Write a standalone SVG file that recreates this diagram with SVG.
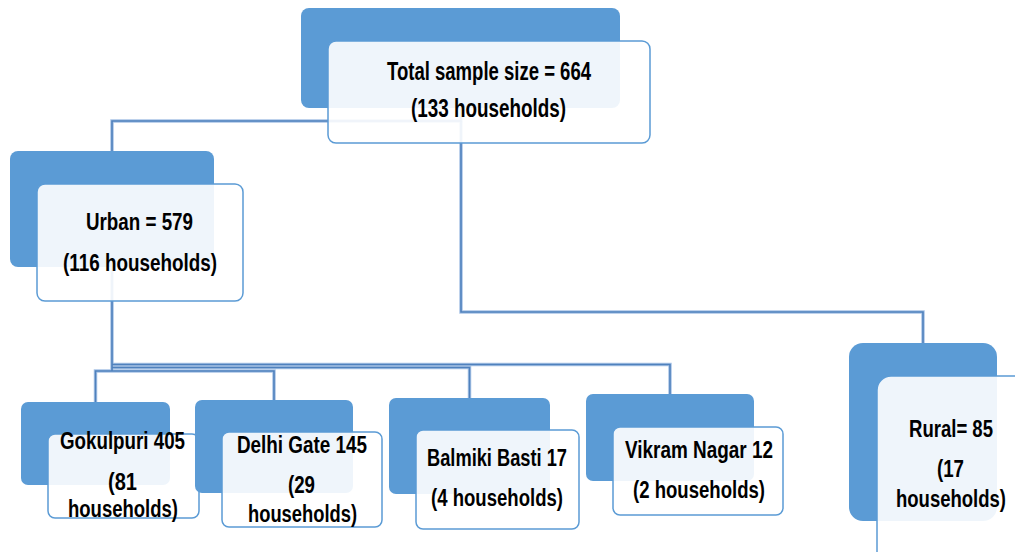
<svg xmlns="http://www.w3.org/2000/svg" width="1015" height="552" viewBox="0 0 1015 552">
<style>
.bk{fill:#5b9bd5;}
.fr{fill:#ffffff;fill-opacity:0.9;stroke:#5b9bd5;stroke-width:1.5;}
.cn{fill:none;stroke:#4f81bd;stroke-width:1.6;}
.cnh{fill:none;stroke:#a9c4e6;stroke-width:3.5;}
text{font-family:"Liberation Sans",Arial,sans-serif;font-weight:bold;font-size:23px;fill:#000;text-anchor:middle;}
.big{font-size:25px;}
</style>
<rect width="1015" height="552" fill="#ffffff"/>
<g id="connectors">
<g class="cnh">
<path d="M461 108 V121 H112 V151"/>
<path d="M461 121 V312 H923 V343"/>
<path d="M112 267 V371"/>
<path d="M112 364.5 H670 V394"/>
<path d="M112 367.5 H469.5 V398"/>
<path d="M112 371 H95.5 V402"/>
<path d="M112 371 H274 V400"/>
</g>
<g class="cn">
<path d="M461 108 V121 H112 V151"/>
<path d="M461 121 V312 H923 V343"/>
<path d="M112 267 V371"/>
<path d="M112 364.5 H670 V394"/>
<path d="M112 367.5 H469.5 V398"/>
<path d="M112 371 H95.5 V402"/>
<path d="M112 371 H274 V400"/>
</g>
</g>
<g id="total">
<rect class="bk" x="301" y="8" width="319" height="100" rx="8"/>
<rect class="fr" x="328" y="41" width="322" height="102" rx="8"/>
<text class="big" x="489" y="80" textLength="204" lengthAdjust="spacingAndGlyphs">Total sample size = 664</text>
<text class="big" x="488.5" y="117" textLength="155" lengthAdjust="spacingAndGlyphs">(133 households)</text>
</g>
<g id="urban">
<rect class="bk" x="10" y="151" width="204" height="116" rx="8"/>
<rect class="fr" x="37" y="184" width="206" height="117" rx="8"/>
<text x="139.5" y="230" textLength="107" lengthAdjust="spacingAndGlyphs">Urban = 579</text>
<text x="140" y="271" textLength="154" lengthAdjust="spacingAndGlyphs">(116 households)</text>
</g>
<g id="gokulpuri">
<rect class="bk" x="21" y="402" width="149" height="83" rx="7"/>
<rect class="fr" x="48" y="434" width="151" height="84" rx="7"/>
<text x="122.5" y="449" textLength="125" lengthAdjust="spacingAndGlyphs">Gokulpuri 405</text>
<text x="122.5" y="490" textLength="29" lengthAdjust="spacingAndGlyphs">(81</text>
<text x="123" y="517" textLength="110" lengthAdjust="spacingAndGlyphs">households)</text>
</g>
<g id="delhigate">
<rect class="bk" x="195" y="400" width="158" height="93" rx="7"/>
<rect class="fr" x="222" y="432" width="160" height="95" rx="7"/>
<text x="302" y="453" textLength="130" lengthAdjust="spacingAndGlyphs">Delhi Gate 145</text>
<text x="301.5" y="493" textLength="27" lengthAdjust="spacingAndGlyphs">(29</text>
<text x="302.5" y="522" textLength="109" lengthAdjust="spacingAndGlyphs">households)</text>
</g>
<g id="balmiki">
<rect class="bk" x="389" y="398" width="161" height="96" rx="7"/>
<rect class="fr" x="416" y="430" width="163" height="99" rx="7"/>
<text x="497" y="466" textLength="140" lengthAdjust="spacingAndGlyphs">Balmiki Basti 17</text>
<text x="497" y="506" textLength="132" lengthAdjust="spacingAndGlyphs">(4 households)</text>
</g>
<g id="vikram">
<rect class="bk" x="586" y="394" width="168" height="87" rx="7"/>
<rect class="fr" x="613" y="427" width="170" height="88" rx="7"/>
<text x="699" y="458" textLength="148" lengthAdjust="spacingAndGlyphs">Vikram Nagar 12</text>
<text x="699" y="498" textLength="132" lengthAdjust="spacingAndGlyphs">(2 households)</text>
</g>
<g id="rural">
<rect class="bk" x="849" y="343" width="148" height="178" rx="14"/>
<rect class="fr" x="877" y="376" width="160" height="190" rx="14"/>
<text x="951" y="437" textLength="84" lengthAdjust="spacingAndGlyphs">Rural= 85</text>
<text x="950.5" y="477" textLength="27" lengthAdjust="spacingAndGlyphs">(17</text>
<text x="951" y="507" textLength="110" lengthAdjust="spacingAndGlyphs">households)</text>
</g>
</svg>
